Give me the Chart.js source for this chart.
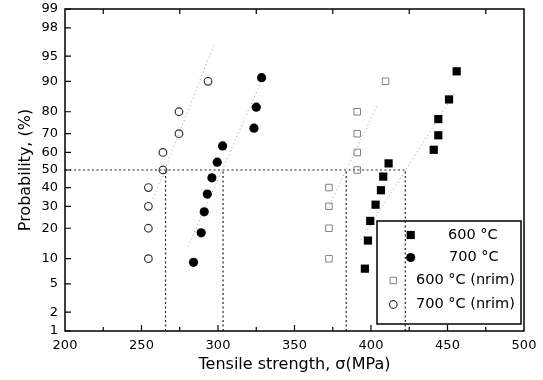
<!DOCTYPE html>
<html lang="en">
<head>
  <meta charset="UTF-8">
  <title>Tensile strength probability plot</title>
  <script src="https://cdn.jsdelivr.net/npm/chart.js"></script>
  <style>
    * { box-sizing: border-box; margin: 0; padding: 0; }
    body { background: #fff; }
    .chart-container { position: relative; width: 543px; height: 380px; }
  </style>
</head>
<body>
  <div class="chart-container"><canvas id="probChart"></canvas></div>
  <script>
    // axis ranges / ticks
    const xMin = 200, xMax = 500, xStep = 50;
    const probTicks = [1, 2, 5, 10, 20, 30, 40, 50, 60, 70, 80, 90, 95, 98, 99];

    // measured points: strength (MPa) and cumulative probability (%)
    const strength600 = [396, 398, 399.5, 403, 406.5, 408, 411.5, 441, 444, 444, 451, 456];
    const prob600 = [7.7, 15.4, 23.1, 30.8, 38.5, 46.2, 53.8, 61.5, 69.2, 76.9, 84.6, 92.3];
    const strength700 = [284, 289, 291, 293, 296, 299.5, 303, 323.5, 325, 328.5];
    const prob700 = [9.1, 18.2, 27.3, 36.4, 45.5, 54.5, 63.6, 72.7, 81.8, 90.9];
    const strength600n = [372.5, 372.5, 372.5, 372.5, 391, 391, 391, 391, 409.5];
    const prob600n = [10, 20, 30, 40, 50, 60, 70, 80, 90];
    const strength700n = [254.5, 254.5, 254.5, 254.5, 264, 264, 274.5, 274.5, 293.5];
    const prob700n = [10, 20, 30, 40, 50, 60, 70, 80, 90];

    // fitted lines (end points)
    const fit600X = [393.5, 455.1], fit600P = [15.6, 87];
    const fit700X = [280.4, 329.5], fit700P = [13.4, 91];
    const fit600nX = [371.7, 403.8], fit600nP = [29, 82];
    const fit700nX = [257.6, 297.2], fit700nP = [33.7, 96.4];

    // strengths at 50 % probability
    const medians = [265.7, 303.3, 383.8, 422.4];

    // inverse normal cdf (Acklam), percent -> z
    function probit(pct) {
      const p = pct / 100;
      const a = [-3.969683028665376e+01, 2.209460984245205e+02, -2.759285104469687e+02, 1.383577518672690e+02, -3.066479806614716e+01, 2.506628277459239e+00];
      const b = [-5.447609879822406e+01, 1.615858368580409e+02, -1.556989798598866e+02, 6.680131188771972e+01, -1.328068155288572e+01];
      const c = [-7.784894002430293e-03, -3.223964580411365e-01, -2.400758277161838e+00, -2.549732539343734e+00, 4.374664141464968e+00, 2.938163982698783e+00];
      const d = [7.784695709041462e-03, 3.224671290700398e-01, 2.445134137142996e+00, 3.754408661907416e+00];
      const pLow = 0.02425;
      let q, r;
      if (p < pLow) {
        q = Math.sqrt(-2 * Math.log(p));
        return (((((c[0]*q+c[1])*q+c[2])*q+c[3])*q+c[4])*q+c[5]) / ((((d[0]*q+d[1])*q+d[2])*q+d[3])*q+1);
      }
      if (p <= 1 - pLow) {
        q = p - 0.5; r = q * q;
        return (((((a[0]*r+a[1])*r+a[2])*r+a[3])*r+a[4])*r+a[5])*q / (((((b[0]*r+b[1])*r+b[2])*r+b[3])*r+b[4])*r+1);
      }
      q = Math.sqrt(-2 * Math.log(1 - p));
      return -(((((c[0]*q+c[1])*q+c[2])*q+c[3])*q+c[4])*q+c[5]) / ((((d[0]*q+d[1])*q+d[2])*q+d[3])*q+1);
    }

    const toPoints = (xs, ps) => xs.map((x, i) => ({ x: x, y: probit(ps[i]) }));

    const fontFamily = "'DejaVu Sans', 'Liberation Sans', Arial, sans-serif";

    function fitLine(xs, ps) {
      return {
        type: 'line', data: toPoints(xs, ps), showLine: true, pointRadius: 0,
        borderColor: '#9a9a9a', borderWidth: 1, borderDash: [1, 3], fill: false
      };
    }
    function refLine(points) {
      return {
        type: 'line', data: points, showLine: true, pointRadius: 0,
        borderColor: '#222', borderWidth: 1.2, borderDash: [2, 2.5], fill: false
      };
    }

    const datasets = [
      { label: '600 °C', data: toPoints(strength600, prob600), pointStyle: 'rect', pointRadius: 5.8,
        backgroundColor: '#000', borderColor: '#000', borderWidth: 0 },
      { label: '700 °C', data: toPoints(strength700, prob700), pointStyle: 'circle', pointRadius: 4.6,
        backgroundColor: '#000', borderColor: '#000', borderWidth: 0 },
      { label: '600 °C (nrim)', data: toPoints(strength600n, prob600n), pointStyle: 'rect', pointRadius: 4.6,
        backgroundColor: 'rgba(0,0,0,0)', borderColor: '#808080', borderWidth: 1 },
      { label: '700 °C (nrim)', data: toPoints(strength700n, prob700n), pointStyle: 'circle', pointRadius: 3.8,
        backgroundColor: 'rgba(0,0,0,0)', borderColor: '#333', borderWidth: 1.2 },
      fitLine(fit600X, fit600P),
      fitLine(fit700X, fit700P),
      fitLine(fit600nX, fit600nP),
      fitLine(fit700nX, fit700nP),
      refLine([{ x: xMin, y: probit(50) }, { x: Math.max(...medians), y: probit(50) }])
    ];
    medians.forEach(m => datasets.push(refLine([{ x: m, y: probit(probTicks[0]) }, { x: m, y: probit(50) }])));

    // box frame with inward ticks
    const framePlugin = {
      id: 'frame',
      afterDatasetsDraw(chart) {
        const { ctx, chartArea: a, scales: { x, y } } = chart;
        ctx.save();
        ctx.strokeStyle = '#000';
        ctx.lineWidth = 1.5;
        ctx.strokeRect(a.left, a.top, a.right - a.left, a.bottom - a.top);
        ctx.lineWidth = 1.2;
        ctx.beginPath();
        for (let v = xMin + xStep / 2; v < xMax; v += xStep / 2) {
          const px = x.getPixelForValue(v);
          const major = (v - xMin) % xStep === 0;
          ctx.moveTo(px, a.bottom);
          ctx.lineTo(px, a.bottom - (major ? 6 : 4));
          if (!major) {
            ctx.moveTo(px, a.top);
            ctx.lineTo(px, a.top + 5);
          }
        }
        probTicks.forEach(p => {
          const py = y.getPixelForValue(probit(p));
          ctx.moveTo(a.left, py);
          ctx.lineTo(a.left + 6, py);
        });
        ctx.stroke();
        ctx.restore();
      }
    };

    // legend box inside the plot
    const legendPlugin = {
      id: 'boxLegend',
      afterDraw(chart) {
        const { ctx } = chart;
        const rows = [
          { ds: 0, mx: 410.7, tx: 448, y: 235 },
          { ds: 1, mx: 410.7, tx: 449, y: 257.5 },
          { ds: 2, mx: 393.3, tx: 416, y: 280.5 },
          { ds: 3, mx: 393.3, tx: 416, y: 304.5 }
        ];
        ctx.save();
        ctx.strokeStyle = '#000';
        ctx.lineWidth = 1.5;
        ctx.strokeRect(377, 221, 144, 103);
        ctx.font = '14.5px ' + fontFamily;
        ctx.textBaseline = 'middle';
        ctx.fillStyle = '#000';
        rows.forEach(r => {
          const ds = chart.data.datasets[r.ds];
          ctx.fillStyle = ds.backgroundColor;
          ctx.strokeStyle = ds.borderColor;
          ctx.lineWidth = ds.borderWidth;
          Chart.helpers.drawPoint(ctx, { pointStyle: ds.pointStyle, radius: ds.pointRadius, borderWidth: ds.borderWidth }, r.mx, r.y);
          ctx.fillStyle = '#000';
          ctx.fillText(ds.label, r.tx, r.y);
        });
        ctx.restore();
      }
    };

    new Chart(document.getElementById('probChart'), {
      type: 'scatter',
      data: { datasets: datasets },
      options: {
        responsive: true,
        maintainAspectRatio: false,
        animation: false,
        layout: { padding: { left: 0, right: 19, top: 9, bottom: 0 } },
        plugins: { legend: { display: false }, tooltip: { enabled: false } },
        scales: {
          x: {
            type: 'linear', min: xMin, max: xMax,
            grid: { display: false, drawTicks: false }, border: { display: false },
            ticks: { stepSize: xStep, color: '#000', padding: 7, font: { family: fontFamily, size: 13 } },
            title: { display: true, text: 'Tensile strength, σ(MPa)', color: '#000', padding: { top: 4, bottom: 6 },
              font: { family: fontFamily, size: 16 } },
            afterFit: s => { s.height = 49; s.paddingLeft = 0; s.paddingRight = 0; }
          },
          y: {
            type: 'linear', min: probit(probTicks[0]), max: probit(probTicks[probTicks.length - 1]),
            grid: { display: false, drawTicks: false }, border: { display: false },
            afterBuildTicks: s => { s.ticks = probTicks.map(p => ({ value: probit(p) })); },
            ticks: { color: '#000', padding: 7, autoSkip: false, font: { family: fontFamily, size: 13 },
              callback: (v, i) => probTicks[i] },
            title: { display: true, text: 'Probability, (%)', color: '#000', padding: { top: 16, bottom: 4 },
              font: { family: fontFamily, size: 16 } },
            afterFit: s => { s.width = 65; s.paddingTop = 0; s.paddingBottom = 0; }
          }
        }
      },
      plugins: [framePlugin, legendPlugin]
    });
  </script>
</body>
</html>
